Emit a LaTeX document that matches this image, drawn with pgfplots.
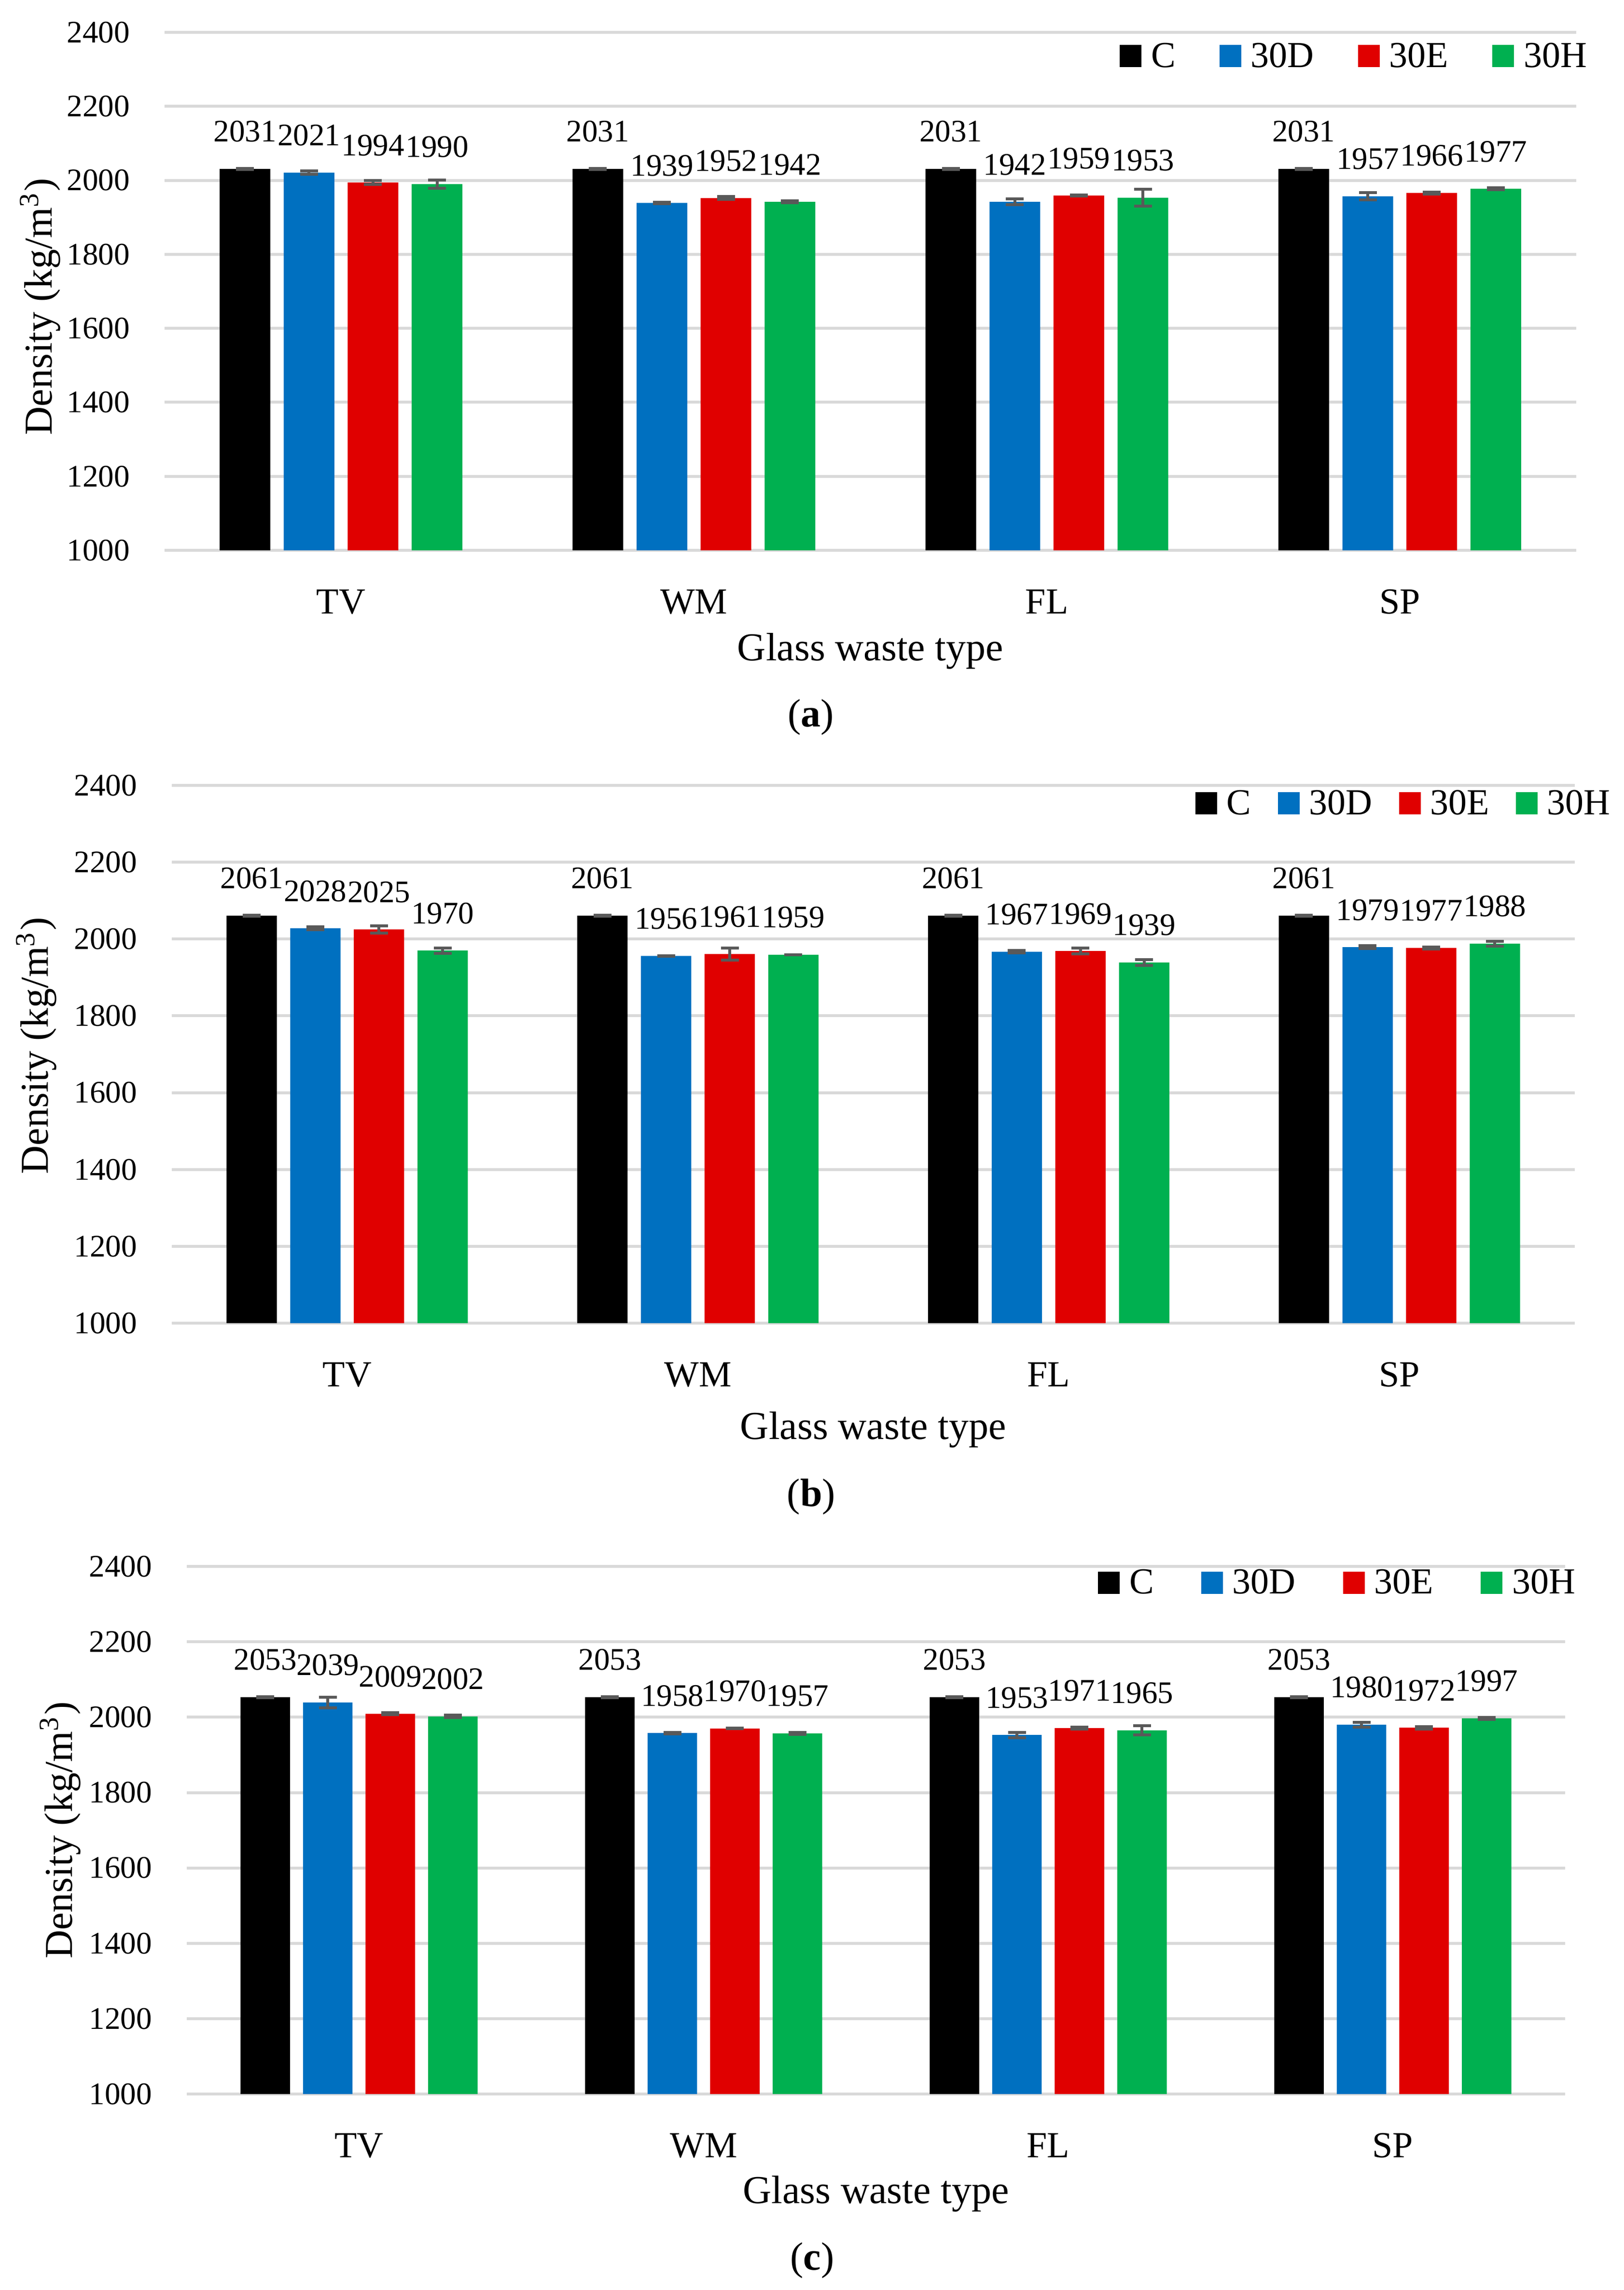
\documentclass[border=0pt]{standalone}
\usepackage{fontspec}
\setmainfont{Liberation Serif}
\usepackage{pgfplots}
\pgfplotsset{compat=1.18}
\usepackage{pgfplotstable}

\definecolor{cC}{HTML}{000000}
\definecolor{cD}{HTML}{0070C0}
\definecolor{cE}{HTML}{E00000}
\definecolor{cH}{HTML}{00B050}
\definecolor{errgray}{HTML}{595959}
\definecolor{gridgray}{HTML}{D9D9D9}

\newcommand{\tickfont}{\fontsize{6.5}{7.5}\selectfont}
\newcommand{\catfont}{\fontsize{7.6}{9}\selectfont}
\newcommand{\titlefont}{\fontsize{8.2}{10}\selectfont}

% density and error, per glass waste type (TV, WM, FL, SP)
\pgfplotstableread{
x C Ce D De E Ee H He
0 2031 1 2021 4 1994 5 1990 11
1 2031 1 1939 2 1952 4 1942 3
2 2031 1 1942 8 1959 1 1953 23
3 2031 1 1957 10 1966 2.5 1977 2.5
}\dataA
\pgfplotstableread{
x C Ce D De E Ee H He
0 2061 1 2028 4 2025 9 1970 7
1 2061 1 1956 1 1961 16 1959 0.5
2 2061 1 1967 3 1969 8 1939 8
3 2061 1 1979 4 1977 2.5 1988 6
}\dataB
\pgfplotstableread{
x C Ce D De E Ee H He
0 2053 1 2039 14 2009 2.5 2002 3
1 2053 1 1958 2 1970 0.5 1957 3
2 2053 1 1953 7 1971 2.5 1965 12
3 2053 1 1980 7 1972 3 1997 2.5
}\dataC

\pgfkeys{/pgf/number format/.cd, 1000 sep={}, assume math mode=true}

\pgfplotsset{
  panel/.style={
    scale only axis,
    ymin=1000, ymax=2400, ytick={1000,1200,...,2400},
    xmin=-0.5, xmax=3.5, xtick={0,1,2,3}, xticklabels={TV,WM,FL,SP},
    ymajorgrids, major grid style={line width=0.6pt, gridgray},
    axis line style={draw=none}, major tick length=0pt, tick style={draw=none},
    yticklabel style={font=\tickfont, anchor=east, inner sep=0pt, xshift=-7pt},
    xticklabel style={font=\catfont, anchor=base, inner sep=0pt, yshift=-13.15pt},
    xlabel={Glass waste type}, ylabel={Density (kg/m\textsuperscript{3})},
    label style={font=\titlefont},
    legend columns=4,
    legend image code/.code={\fill[##1] (0pt,-2.55pt) rectangle (4.5pt,2.05pt);},
    legend style={draw=none, fill=none, inner sep=0pt, anchor=east, font=\catfont,
      nodes={inner sep=0pt, text depth=0pt},
      /tikz/every odd column/.append style={column sep=2pt}},
  },
  mybar/.style={ybar, bar shift=0pt, draw=none, fill=#1, bar width=0.1436, point meta=y,
    nodes near coords,
    every node near coord/.append style={font=\tickfont, text=black, anchor=base,
      inner sep=0pt, yshift=5.6pt},
    error bars/.cd, y dir=both, y explicit,
    error bar style={line width=0.6pt, errgray},
    error mark options={rotate=90, mark size=1.85pt, line width=0.6pt, errgray},
    /pgfplots/.cd,
  },
}

\begin{document}
\begin{tikzpicture}
\path[use as bounding box] (0pt,0pt) rectangle (336.5pt,-474.4pt);

% (a)
\begin{axis}[panel, width=292.5pt, height=107.3pt, at={(34.1pt,-114.0pt)}, anchor=south west,
  ylabel style={at={(axis description cs:-0.0797,0.4706)}, anchor=base},
  xlabel style={at={(axis description cs:0.5,-0.2125)}, anchor=base},
  legend style={at={(axis description cs:1.0082,0.9562)},
    /tikz/every even column/.append style={column sep=9.1pt}}]
\addplot[mybar=cC] table[x expr=\thisrow{x}-0.2722, y=C, y error=Ce] {\dataA};
\addplot[mybar=cD] table[x expr=\thisrow{x}-0.0907, y=D, y error=De] {\dataA};
\addplot[mybar=cE] table[x expr=\thisrow{x}+0.0907, y=E, y error=Ee] {\dataA};
\addplot[mybar=cH] table[x expr=\thisrow{x}+0.2722, y=H, y error=He] {\dataA};
\legend{C,30D,30E,30H}
\end{axis}
\node[font=\titlefont, anchor=base] at (168.0pt,-150.5pt) {(\textbf{a})};

% (b)
\begin{axis}[panel, width=290.7pt, height=111.4pt, at={(35.6pt,-274.1pt)}, anchor=south west,
  ylabel style={at={(axis description cs:-0.0881,0.516)}, anchor=base},
  xlabel style={at={(axis description cs:0.5,-0.2163)}, anchor=base},
  legend style={at={(axis description cs:1.0261,0.9686)},
    /tikz/every even column/.append style={column sep=5.5pt}}]
\addplot[mybar=cC] table[x expr=\thisrow{x}-0.2722, y=C, y error=Ce] {\dataB};
\addplot[mybar=cD] table[x expr=\thisrow{x}-0.0907, y=D, y error=De] {\dataB};
\addplot[mybar=cE] table[x expr=\thisrow{x}+0.0907, y=E, y error=Ee] {\dataB};
\addplot[mybar=cH] table[x expr=\thisrow{x}+0.2722, y=H, y error=He] {\dataB};
\legend{C,30D,30E,30H}
\end{axis}
\node[font=\titlefont, anchor=base] at (168.1pt,-312.0pt) {(\textbf{b})};

% (c)
\begin{axis}[panel, width=285.6pt, height=109.3pt, at={(38.7pt,-433.8pt)}, anchor=south west,
  ylabel style={at={(axis description cs:-0.0833,0.5)}, anchor=base},
  xlabel style={at={(axis description cs:0.5,-0.2068)}, anchor=base},
  legend style={at={(axis description cs:1.0081,0.9716)},
    /tikz/every even column/.append style={column sep=9.8pt}}]
\addplot[mybar=cC] table[x expr=\thisrow{x}-0.2722, y=C, y error=Ce] {\dataC};
\addplot[mybar=cD] table[x expr=\thisrow{x}-0.0907, y=D, y error=De] {\dataC};
\addplot[mybar=cE] table[x expr=\thisrow{x}+0.0907, y=E, y error=Ee] {\dataC};
\addplot[mybar=cH] table[x expr=\thisrow{x}+0.2722, y=H, y error=He] {\dataC};
\legend{C,30D,30E,30H}
\end{axis}
\node[font=\titlefont, anchor=base] at (168.3pt,-470.2pt) {(\textbf{c})};
\end{tikzpicture}
\end{document}
